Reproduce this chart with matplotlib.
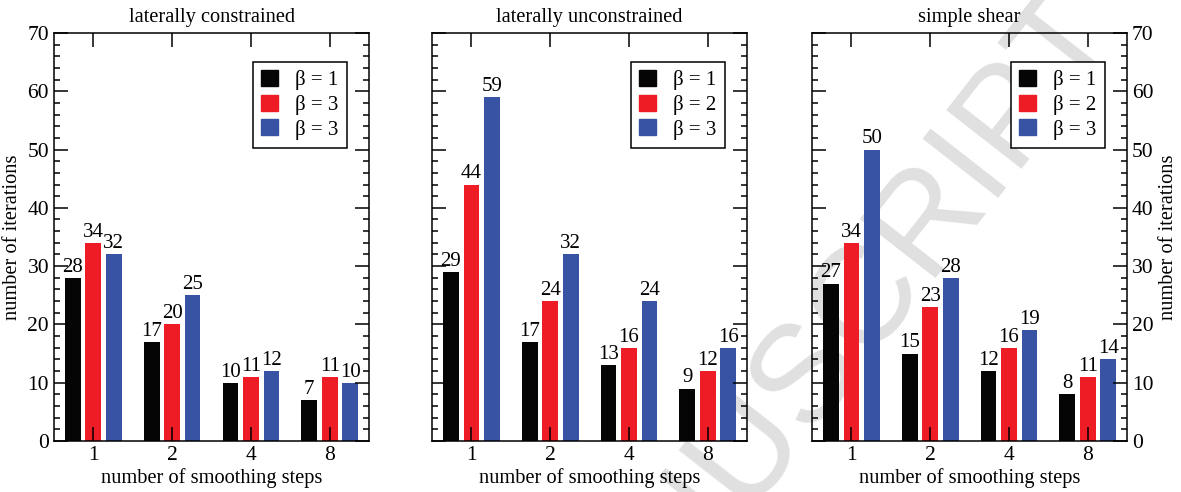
import numpy as np
import matplotlib.pyplot as plt
from matplotlib.ticker import MultipleLocator
from matplotlib.patches import Patch

plt.rcParams['font.family'] = ['Liberation Serif', 'DejaVu Serif']

# dati
passi = ['1', '2', '4', '8']
titoli = ['laterally constrained', 'laterally unconstrained', 'simple shear']
etichette = [['β = 1', 'β = 3', 'β = 3'],
             ['β = 1', 'β = 2', 'β = 3'],
             ['β = 1', 'β = 2', 'β = 3']]

vincolato = [[28, 17, 10, 7], [34, 20, 11, 11], [32, 25, 12, 10]]
non_vincolato = [[29, 17, 13, 9], [44, 24, 16, 12], [59, 32, 24, 16]]
taglio = [[27, 15, 12, 8], [34, 23, 16, 11], [50, 28, 19, 14]]

colori = ['#050505', '#ee1c24', '#3953a4']

fig = plt.figure(figsize=(11.81, 4.92), dpi=100)

# filigrana sullo sfondo
fig.text(0.685, 0.254, 'MANUSCRIPT', rotation=52, rotation_mode='anchor',
         ha='center', va='center', fontsize=100, color='#e0e0e0',
         family='Liberation Sans', zorder=-1)

posizioni = [0.0457, 0.3658, 0.6876]
serie = [vincolato, non_vincolato, taglio]
x = np.arange(len(passi))

for i in range(3):
    ax = fig.add_axes([posizioni[i], 0.1037, 0.2668, 0.8293])
    ax.set_facecolor('none')
    for k in range(3):
        xs = x + (k - 1) * 0.26
        ax.bar(xs, serie[i][k], width=0.2, color=colori[k], label=etichette[i][k])
        for xx, v in zip(xs, serie[i][k]):
            ax.text(xx, v + 0.2, str(v), ha='center', va='bottom', fontsize=15)
    ax.set_xlim(-0.5, 3.5)
    ax.set_ylim(0, 70)
    ax.set_xticks(x)
    ax.set_xticklabels(passi)
    ax.yaxis.set_major_locator(MultipleLocator(10))
    ax.yaxis.set_minor_locator(MultipleLocator(2))
    ax.tick_params(which='both', direction='in', top=True, right=True,
                   labelsize=15.5, width=1.1)
    ax.tick_params(which='major', length=10)
    ax.tick_params(which='minor', length=4.5)
    for s in ax.spines.values():
        s.set_linewidth(1.1)
    ax.set_title(titoli[i], fontsize=14.7, pad=8)
    ax.set_xlabel('number of smoothing steps', fontsize=14.7, labelpad=2)
    if i == 0:
        ax.set_ylabel('number of iterations', fontsize=14.7)
    elif i == 1:
        ax.tick_params(labelleft=False)
    else:
        ax.tick_params(labelleft=False, labelright=True)
        ax.yaxis.set_label_position('right')
        ax.set_ylabel('number of iterations', fontsize=14.7)

    maniglie = [Patch(color=colori[k], label=etichette[i][k]) for k in range(3)]
    leg = ax.legend(handles=maniglie, loc='upper right', bbox_to_anchor=(0.93, 0.93),
                    borderaxespad=0, fancybox=False, edgecolor='black', framealpha=1,
                    fontsize=15, handlelength=0.8, handleheight=0.8,
                    handletextpad=0.85, labelspacing=0.22, borderpad=0.4)
    leg.get_frame().set_linewidth(1.1)

plt.savefig('out.png', dpi=100)
